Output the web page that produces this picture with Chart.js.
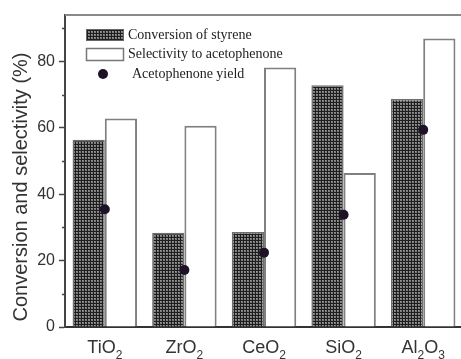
<!DOCTYPE html>
<html><head><meta charset="utf-8">
<script src="https://cdn.jsdelivr.net/npm/chart.js@4.4.1/dist/chart.umd.min.js"></script>
<style>
html,body{margin:0;padding:0;background:#fff;overflow:hidden;}
#wrap{width:461px;height:359px;overflow:hidden;}
</style></head>
<body>
<div id="wrap"><canvas id="c" width="468" height="359"></canvas></div>
<script>
const categories = ["TiO2", "ZrO2", "CeO2", "SiO2", "Al2O3"];
const conversion = [56.4, 28.4, 28.6, 72.8, 68.7];
const selectivity = [62.8, 60.6, 78.2, 46.4, 86.9];
const yieldVals = [35.5, 17.2, 22.4, 33.8, 59.4];
const seriesLabels = ["Conversion of styrene", "Selectivity to acetophenone", "Acetophenone yield"];
const yTitle = "Conversion and selectivity (%)";
const yMajorTicks = [0, 20, 40, 60, 80];
const yMinorTicks = [10, 30, 50, 70, 90];

function makePattern(){
  const c = document.createElement('canvas'); c.width = 3; c.height = 3;
  const g = c.getContext('2d');
  g.fillStyle = '#1e1e1e'; g.fillRect(0,0,3,3);
  g.fillStyle = '#7c7c7c'; g.fillRect(1,1,2,2);
  g.fillStyle = '#9a9a9a'; g.fillRect(1,1,1,1);
  return g.createPattern(c, 'repeat');
}
const pat = makePattern();

const sansFont = '"Liberation Sans", Arial, sans-serif';
const serifFont = '"Liberation Serif", "Times New Roman", serif';

const drawPlugin = {
  id: 'custom',
  afterDraw(chart){
    const ctx = chart.ctx, ca = chart.chartArea;
    const ys = chart.scales.y, xs = chart.scales.x;
    ctx.save();
    // top border
    ctx.strokeStyle = '#8a8a8a'; ctx.lineWidth = 2;
    ctx.beginPath(); ctx.moveTo(ca.left, ca.top); ctx.lineTo(ca.right, ca.top); ctx.stroke();
    // minor ticks
    ctx.strokeStyle = '#444'; ctx.lineWidth = 1.5;
    yMinorTicks.forEach(v => {
      const y = Math.round(ys.getPixelForValue(v)) + 0.5;
      ctx.beginPath(); ctx.moveTo(ca.left - 3, y); ctx.lineTo(ca.left, y); ctx.stroke();
    });
    // y title
    ctx.save();
    ctx.translate(21, 187);
    ctx.rotate(-Math.PI/2);
    ctx.fillStyle = '#333';
    ctx.font = '20px ' + sansFont;
    ctx.textAlign = 'center'; ctx.textBaseline = 'middle';
    ctx.fillText(yTitle, 0, 0);
    ctx.restore();
    // x labels with subscripts
    chart.data.labels.forEach((lab, i) => {
      const cx = xs.getPixelForTick(i);
      const parts = lab.match(/[A-Za-z]+|\d+/g);
      const big = '18px ' + sansFont, small = '12px ' + sansFont;
      let w = 0;
      parts.forEach(p => { ctx.font = /\d/.test(p) ? small : big; w += ctx.measureText(p).width; });
      let x = cx - w/2;
      ctx.fillStyle = '#333'; ctx.textAlign = 'left'; ctx.textBaseline = 'alphabetic';
      parts.forEach(p => {
        const sub = /\d/.test(p);
        ctx.font = sub ? small : big;
        ctx.fillText(p, x, sub ? 359 : 353);
        x += ctx.measureText(p).width;
      });
    });
    // legend
    const ds = chart.data.datasets;
    ctx.font = '14px ' + serifFont; ctx.fillStyle = '#222';
    ctx.textAlign = 'left'; ctx.textBaseline = 'middle';
    // box 1
    ctx.fillStyle = ds[0].backgroundColor; ctx.fillRect(86, 29, 38, 12);
    ctx.strokeStyle = '#666'; ctx.lineWidth = 1; ctx.strokeRect(86.5, 29.5, 37, 11);
    ctx.fillStyle = '#222'; ctx.fillText(ds[0].label, 128, 35);
    // box 2
    ctx.fillStyle = '#fff'; ctx.fillRect(86, 48, 38, 13);
    ctx.strokeStyle = '#777'; ctx.lineWidth = 1.5; ctx.strokeRect(86.5, 48.5, 37, 12);
    ctx.fillStyle = '#222'; ctx.fillText(ds[1].label, 128, 54);
    // dot
    ctx.fillStyle = ds[2].pointBackgroundColor;
    ctx.beginPath(); ctx.arc(103, 74, 5, 0, Math.PI*2); ctx.fill();
    ctx.fillStyle = '#222'; ctx.fillText(ds[2].label, 132, 74);
    ctx.restore();
  }
};

new Chart(document.getElementById('c'), {
  type: 'bar',
  data: {
    labels: categories,
    datasets: [
      { label: seriesLabels[0], data: conversion, backgroundColor: pat, borderColor: '#6e6e6e', borderWidth: 1.5, order: 2 },
      { label: seriesLabels[1], data: selectivity, backgroundColor: '#ffffff', borderColor: '#808080', borderWidth: 2, order: 2 },
      { type: 'line', label: seriesLabels[2], data: yieldVals, showLine: false, pointRadius: 5, pointHoverRadius: 5,
        pointBackgroundColor: '#1d1226', pointBorderWidth: 0, borderColor: '#1d1226', backgroundColor: '#1d1226', order: 0 }
    ]
  },
  options: {
    responsive: false,
    animation: false,
    devicePixelRatio: 1,
    layout: { padding: { top: 15, right: 0, left: 0, bottom: 0 } },
    datasets: { bar: { categoryPercentage: 0.81, barPercentage: 1.0 } },
    plugins: { legend: { display: false }, tooltip: { enabled: false } },
    scales: {
      x: {
        grid: { display: false },
        border: { display: true, color: '#333', width: 2 },
        ticks: { display: false },
        afterFit(s){ s.height = 32; }
      },
      y: {
        min: 0, max: 94,
        afterBuildTicks(s){ s.ticks = yMajorTicks.map(v => ({ value: v })); },
        ticks: { font: { size: 16, family: sansFont }, color: '#333', padding: 4 },
        grid: { drawOnChartArea: false, tickLength: 6, tickColor: '#444', tickWidth: 1.5 },
        border: { display: true, color: '#444', width: 2 },
        afterFit(s){ s.width = 65; }
      }
    }
  },
  plugins: [drawPlugin]
});
</script>
</body></html>
